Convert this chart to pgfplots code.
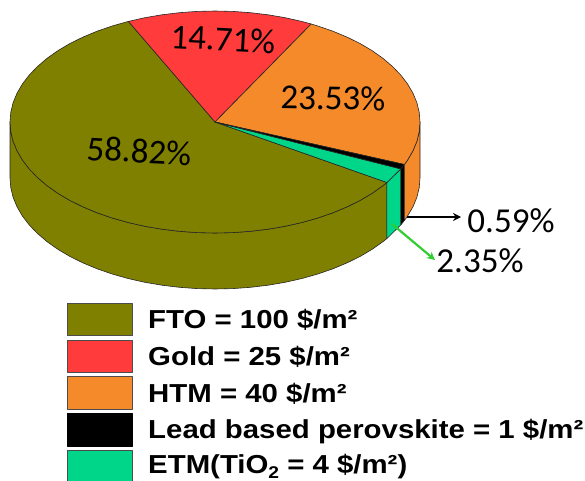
\documentclass[border=0pt]{standalone}
\usepackage{pgfplots}
\pgfplotsset{compat=1.18}
\usepackage{fontspec}
\setmainfont{Carlito}
\newfontfamily\legfont{Liberation Sans}
\usetikzlibrary{arrows.meta}
\definecolor{cfto}{HTML}{808000}
\definecolor{cgold}{HTML}{FF3B3B}
\definecolor{chtm}{HTML}{F58A2A}
\definecolor{cetm}{HTML}{00D68A}
\definecolor{carr}{HTML}{33CC33}
\newcommand{\pct}[1]{\fontsize{35bp}{40bp}\selectfont #1}
\newcommand{\leg}[1]{\legfont\bfseries\fontsize{26bp}{28bp}\selectfont #1}
\tikzset{lg/.style={anchor=base west,inner sep=0pt,xscale=1.13},edge/.style={draw=black!85,line width=0.6pt}}
\begin{document}
\begin{tikzpicture}
\useasboundingbox (0,0) rectangle (585bp,481bp);
\begin{axis}[at={(0,0)},anchor=south west,scale only axis,width=585bp,height=481bp,
  xmin=0,xmax=585,ymin=0,ymax=481,y dir=reverse,axis lines=none,
  every axis plot/.append style={line join=round}]
% sides
\addplot[fill=cfto,edge] coordinates {(10,122)(10.8,131.7)(13.1,141.3)(17,150.7)(22.4,160)(29.2,168.9)(37.5,177.5)(47.1,185.7)(58,193.4)(70,200.5)(83.2,207)(97.4,212.9)(112.5,218.1)(128.4,222.6)(144.9,226.3)(161.9,229.2)(179.4,231.3)(197.1,232.6)(215,233)(232.9,232.6)(250.6,231.3)(268.1,229.2)(285.1,226.3)(301.6,222.6)(317.5,218.1)(332.6,212.9)(346.8,207)(360,200.5)(372,193.4)(382.9,185.7)(386.9,182.5)
(386.9,238.5)(382.9,241.7)(372,249.4)(360,256.5)(346.8,263)(332.6,268.9)(317.5,274.1)(301.6,278.6)(285.1,282.3)(268.1,285.2)(250.6,287.3)(232.9,288.6)(215,289)(197.1,288.6)(179.4,287.3)(161.9,285.2)(144.9,282.3)(128.4,278.6)(112.5,274.1)(97.4,268.9)(83.2,263)(70,256.5)(58,249.4)(47.1,241.7)(37.5,233.5)(29.2,224.9)(22.4,216)(17,206.7)(13.1,197.3)(10.8,187.7)(10,178)} -- cycle;
\addplot[fill=cetm,edge] coordinates {(386.9,182.5)(400.8,168.9)(400.8,224.9)(386.9,238.5)} -- cycle;
\addplot[fill=black,edge] coordinates {(400.8,168.9)(404.4,164.5)(404.4,220.5)(400.8,224.9)} -- cycle;
\addplot[fill=chtm,edge] coordinates {(404.4,164.5)(407.6,160)(413,150.7)(416.9,141.3)(419.2,131.7)(420,122)(420,178)(419.2,187.7)(416.9,197.3)(413,206.7)(407.6,216)(404.4,220.5)} -- cycle;
% top wedges
\addplot[fill=cfto,edge] coordinates {(215,122)(128.4,21.4)(112.5,25.9)(97.4,31.1)(83.2,37)(70,43.5)(58,50.6)(47.1,58.3)(37.5,66.5)(29.2,75.1)(22.4,84)(17,93.3)(13.1,102.7)(10.8,112.3)(10,122)(10.8,131.7)(13.1,141.3)(17,150.7)(22.4,160)(29.2,168.9)(37.5,177.5)(47.1,185.7)(58,193.4)(70,200.5)(83.2,207)(97.4,212.9)(112.5,218.1)(128.4,222.6)(144.9,226.3)(161.9,229.2)(179.4,231.3)(197.1,232.6)(215,233)(232.9,232.6)(250.6,231.3)(268.1,229.2)(285.1,226.3)(301.6,222.6)(317.5,218.1)(332.6,212.9)(346.8,207)(360,200.5)(372,193.4)(382.9,185.7)(386.9,182.5)} -- cycle;
\addplot[fill=cgold,edge] coordinates {(215,122)(311.2,24)(301.6,21.4)(285.1,17.7)(268.1,14.8)(250.6,12.7)(232.9,11.4)(215,11)(197.1,11.4)(179.4,12.7)(161.9,14.8)(144.9,17.7)(128.4,21.4)} -- cycle;
\addplot[fill=chtm,edge] coordinates {(215,122)(404.4,164.5)(407.6,160)(413,150.7)(416.9,141.3)(419.2,131.7)(420,122)(419.2,112.3)(416.9,102.7)(413,93.3)(407.6,84)(400.8,75.1)(392.5,66.5)(382.9,58.3)(372,50.6)(360,43.5)(346.8,37)(332.6,31.1)(317.5,25.9)(311.2,24)} -- cycle;
\addplot[fill=cetm,edge] coordinates {(215,122)(400.8,168.9)(386.9,182.5)} -- cycle;
\addplot[fill=black,edge] coordinates {(215,122)(404.4,164.5)(400.8,168.9)} -- cycle;
% arrows
\addplot[black,line width=1.8pt,-{Stealth[length=8pt,width=8pt]}] coordinates {(407,217)(461,217)};
\addplot[carr,line width=2.2pt,-{Stealth[length=8pt,width=8pt]}] coordinates {(392,224)(435,260)};
% percentages
\node[rotate=-3] at (axis cs:223,39) {\pct{14.71\%}};
\node[rotate=-1] at (axis cs:333,98) {\pct{23.53\%}};
\node[rotate=-3] at (axis cs:139,151) {\pct{58.82\%}};
\node at (axis cs:511,221) {\pct{0.59\%}};
\node at (axis cs:480,261) {\pct{2.35\%}};
% legend
\addplot[fill=cfto,draw=black!70,line width=0.8pt] coordinates {(67,303)(132,303)(132,335)(67,335)} -- cycle;
\addplot[fill=cgold,draw=black!70,line width=0.8pt] coordinates {(67,340)(132,340)(132,372)(67,372)} -- cycle;
\addplot[fill=chtm,draw=black!70,line width=0.8pt] coordinates {(67,376)(132,376)(132,409)(67,409)} -- cycle;
\addplot[fill=black,draw=black,line width=0.8pt] coordinates {(67,413)(132,413)(132,446)(67,446)} -- cycle;
\addplot[fill=cetm,draw=black!70,line width=0.8pt] coordinates {(67,450)(132,450)(132,483)(67,483)} -- cycle;
\node[lg] at (axis cs:148,328) {\leg{FTO = 100 \$/m²}};
\node[lg] at (axis cs:148,365) {\leg{Gold = 25 \$/m²}};
\node[lg] at (axis cs:148,402) {\leg{HTM = 40 \$/m²}};
\node[lg] at (axis cs:148,438) {\leg{Lead based perovskite = 1 \$/m²}};
\node[lg] at (axis cs:148,473.5) {\leg{ETM(TiO\raisebox{-5bp}{\fontsize{17bp}{20bp}\selectfont 2} = 4 \$/m²)}};
\end{axis}
\end{tikzpicture}
\end{document}
